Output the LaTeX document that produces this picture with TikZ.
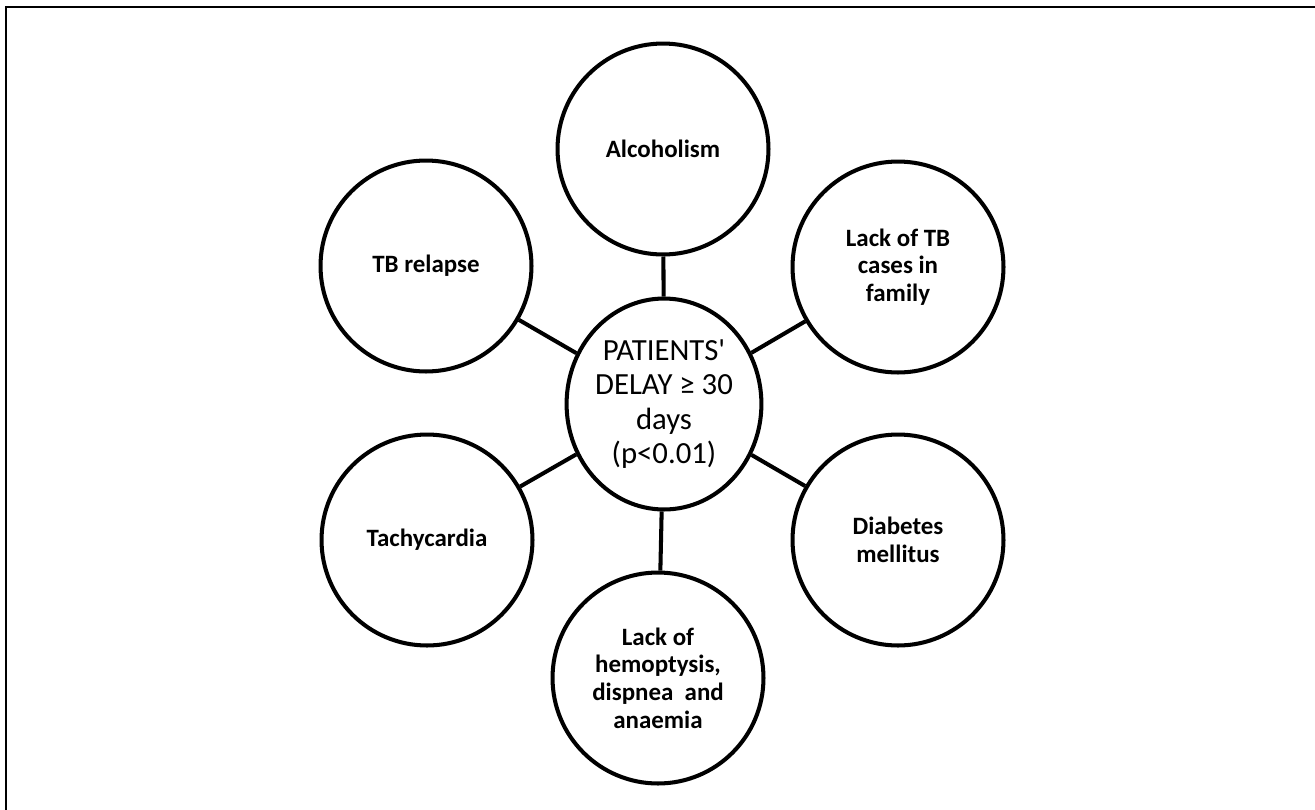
\documentclass[tikz,border=0pt]{standalone}
\usepackage{fontspec}
\setmainfont{Carlito}
\usepackage{tikz}
\usetikzlibrary{shapes.geometric}

\begin{document}
\begin{tikzpicture}[
        x=0.02cm, y=-0.02cm,
        factor/.style={draw, circle, line width=2.3pt, minimum size=4.22cm, inner sep=0pt, align=center, font=\fontsize{14.2}{15.8}\selectfont\bfseries},
        delay/.style={draw, ellipse, line width=2.3pt, minimum width=3.86cm, minimum height=4.22cm, inner sep=0pt, align=center, font=\fontsize{17.5}{19.5}\selectfont},
        link/.style={line width=2.3pt}
    ]
        \useasboundingbox (0,0) rectangle (1315,809);
        \draw[line width=0.8pt] (6,7) rectangle (1340,840);
        \node[delay] (delay) at (664,404) {PATIENTS\textquotesingle\\DELAY ≥ 30\\days\\(p<0.01)};
        \node[factor] (alcohol) at (663,149) {Alcoholism};
        \node[factor] (family) at (898,267) {Lack of TB\\cases in\\family};
        \node[factor] (relapse) at (426,266) {TB relapse};
        \node[factor] (tachy) at (427,540) {Tachycardia};
        \node[factor] (diabetes) at (898,540) {Diabetes\\mellitus};
        \node[factor] (symptoms) at (658,678) {Lack of\\hemoptysis,\\dispnea\ \ and\\anaemia};
        \draw[link] (delay) -- (alcohol);
        \draw[link] (delay) -- (family);
        \draw[link] (delay) -- (relapse);
        \draw[link] (delay) -- (tachy);
        \draw[link] (delay) -- (diabetes);
        \draw[link] (delay) -- (symptoms);
    \end{tikzpicture}
\end{document}
